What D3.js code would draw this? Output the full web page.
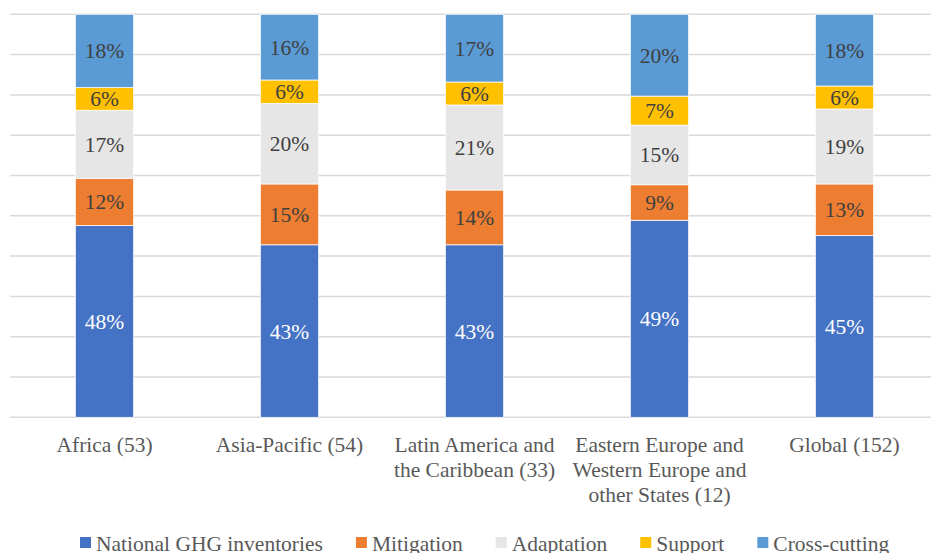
<!DOCTYPE html>
<html>
<head>
<meta charset="utf-8">
<script src="https://cdn.jsdelivr.net/npm/d3@7"></script>
</head>
<body style="margin:0">
<svg id="chart" width="931" height="553"></svg>
<script>
// Regions (number of countries in brackets)
const categories = ["Africa", "Asia-Pacific", "Latin America", "Eastern/Western Europe", "Global"];
const tickLabels = [
  ["Africa (53)"],
  ["Asia-Pacific (54)"],
  ["Latin America and", "the Caribbean (33)"],
  ["Eastern Europe and", "Western Europe and", "other States (12)"],
  ["Global (152)"]
];

// Share of each area of work, percent
const seriesNames = ["National GHG inventories", "Mitigation", "Adaptation", "Support", "Cross-cutting"];
const nationalGHG  = [47.6, 42.8, 42.8, 48.9, 45.1];
const mitigation   = [11.7, 15.1, 13.6,  8.8, 12.8];
const adaptation   = [16.9, 20.0, 21.1, 14.8, 18.6];
const support      = [ 5.6,  5.8,  5.7,  7.2,  5.7];
const crossCutting = [18.2, 16.3, 16.8, 20.3, 17.8];

const gridTicks = [0, 10, 20, 30, 40, 50, 60, 70, 80, 90, 100];

const colors = ["#4472C4", "#ED7D31", "#E6E6E6", "#FFC000", "#5B9BD5"];
const labelColors = ["#ffffff", "#404040", "#404040", "#404040", "#404040"];

// text is set at 24px and scaled down to the drawn size
const FONT = "Liberation Serif";
const BASE = 24;
const FS = 21.5;
const K = FS / BASE;

const svg = d3.select("#chart");
const W = 931, H = 553;

const x = d3.scaleBand()
  .domain(categories)
  .range([12, 937])
  .paddingInner(0.685)
  .paddingOuter(0.3425);

const y = d3.scaleLinear().domain([0, 100]).range([417.3, 14.3]);

function addText(parent, tx, ty, str, fill, anchor) {
  return parent.append("text")
    .attr("transform", `translate(${tx},${ty}) scale(${K})`)
    .attr("text-anchor", anchor)
    .attr("font-family", FONT)
    .attr("font-size", BASE)
    .attr("fill", fill)
    .text(str);
}

// horizontal gridlines
svg.append("g")
  .selectAll("line")
  .data(gridTicks)
  .join("line")
  .attr("x1", 10).attr("x2", W)
  .attr("y1", d => y(d)).attr("y2", d => y(d))
  .attr("stroke", "#d9d9d9")
  .attr("stroke-width", 1.5);

// stacked data table
const table = categories.map((c, i) => ({
  category: c,
  [seriesNames[0]]: nationalGHG[i],
  [seriesNames[1]]: mitigation[i],
  [seriesNames[2]]: adaptation[i],
  [seriesNames[3]]: support[i],
  [seriesNames[4]]: crossCutting[i]
}));
const stacked = d3.stack().keys(seriesNames)(table);

svg.append("g")
  .selectAll("g")
  .data(stacked)
  .join("g")
  .attr("fill", (d, i) => colors[i])
  .selectAll("rect")
  .data(d => d)
  .join("rect")
  .attr("x", d => x(d.data.category))
  .attr("width", x.bandwidth())
  .attr("y", d => y(d[1]))
  .attr("height", d => y(d[0]) - y(d[1]))
  .attr("stroke", "#ffffff")
  .attr("stroke-width", 0.75);

// value labels
const valueLayer = svg.append("g");
stacked.forEach((layer, si) => {
  layer.forEach(p => {
    addText(valueLayer,
      x(p.data.category) + x.bandwidth() / 2,
      (y(p[0]) + y(p[1])) / 2 + 7.5,
      Math.round(p.data[layer.key]) + "%",
      labelColors[si], "middle");
  });
});

// category axis labels
const axisLayer = svg.append("g");
categories.forEach((c, i) => {
  tickLabels[i].forEach((line, j) => {
    addText(axisLayer, x(c) + x.bandwidth() / 2, 452 + j * 25, line, "#595959", "middle");
  });
});

// legend
const legend = svg.append("g");
let lx = 80;
seriesNames.forEach((name, i) => {
  legend.append("rect")
    .attr("x", lx).attr("y", 537)
    .attr("width", 11).attr("height", 11)
    .attr("fill", colors[i]);
  const t = addText(legend, lx + 16, 551, name, "#595959", "start");
  lx += 16 + t.node().getComputedTextLength() * K + 33;
});
</script>
</body>
</html>
